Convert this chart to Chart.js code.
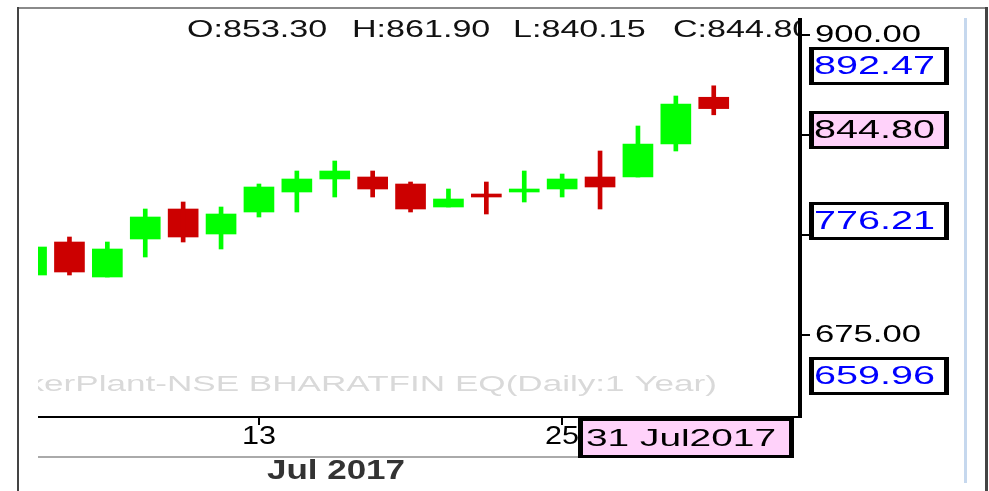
<!DOCTYPE html>
<html>
<head>
<meta charset="utf-8">
<script src="https://cdn.jsdelivr.net/npm/chart.js@4"></script>
<style>
  html, body { margin: 0; padding: 0; background: #fff; }
  canvas { display: block; }
</style>
</head>
<body>
<canvas id="myChart" width="989" height="491"></canvas>
<script>
// July 2017 trading days
var dates = ['5', '6', '7', '10', '11', '12', '13', '14', '17', '18', '19', '20', '21', '24', '25', '26', '27', '28', '31'];
var opens = [720, 744.75, 718.5, 747, 769.5, 750.75, 767.25, 782.25, 792, 793.5, 788.25, 771, 780.75, 782.25, 784.5, 793.5, 793.5, 818.25, 853.30];
var highs = [744, 748.5, 744.75, 769.5, 774.75, 771, 788.25, 798, 805.5, 798, 789.75, 784.5, 789.75, 798, 795.75, 813, 831.75, 854.25, 861.90];
var lows = [716, 720, 718.5, 733.5, 744.75, 739.5, 763.5, 767.25, 778.5, 778.5, 767.25, 771, 765.75, 774.75, 778.5, 769.5, 793.5, 813, 840.15];
var closes = [741, 722.25, 739.5, 763.5, 748.5, 765.75, 786, 792, 798, 784.5, 769.5, 777, 778.5, 784.5, 792, 786, 818.25, 848.25, 844.80];

var yTicks = [900, 825, 750, 675];
var yTickLabels = ['900.00', '', '', '675.00'];
var xTickLabels = ['13', '25'];
var monthLabel = 'Jul 2017';
var lastDateLabel = '31 Jul2017';
var levels = [892.47, 844.80, 776.21, 659.96];
var watermark = 'TickerPlant-NSE BHARATFIN EQ(Daily:1 Year)';

var GREEN = '#00ff00';
var RED = '#cc0000';

var colors = dates.map(function (d, i) {
  return closes[i] >= opens[i] ? GREEN : RED;
});
var wicks = dates.map(function (d, i) {
  return { x: i, y: [lows[i], highs[i]] };
});
var bodies = dates.map(function (d, i) {
  return { x: i, y: [opens[i], closes[i]] };
});

function stretchText(ctx, text, x, y, width, font, color) {
  ctx.save();
  ctx.font = font;
  ctx.fillStyle = color;
  ctx.textBaseline = 'middle';
  ctx.textAlign = 'left';
  var w = ctx.measureText(text).width;
  ctx.translate(x, y);
  ctx.scale(width / w, 1);
  ctx.fillText(text, 0, 0);
  ctx.restore();
}

function scaledText(ctx, text, x, y, sx, font, color) {
  ctx.save();
  ctx.font = font;
  ctx.fillStyle = color;
  ctx.textBaseline = 'middle';
  ctx.textAlign = 'left';
  ctx.translate(x, y);
  ctx.scale(sx, 1);
  ctx.fillText(text, 0, 0);
  ctx.restore();
}

function box(ctx, x, y, w, h, fill) {
  ctx.fillStyle = '#000';
  ctx.fillRect(x, y, w, h);
  ctx.fillStyle = fill;
  ctx.fillRect(x + 5, y + 3, w - 10, h - 6);
}

var backdrop = {
  id: 'backdrop',
  beforeDatasetsDraw: function (chart) {
    var ctx = chart.ctx;
    var a = chart.chartArea;
    ctx.save();
    ctx.beginPath();
    ctx.rect(a.left, a.top, a.right - a.left, a.bottom - a.top);
    ctx.clip();
    ctx.font = '22px "Liberation Sans"';
    var full = ctx.measureText(watermark).width;
    var head = ctx.measureText('Tick').width;
    var s = 673 / (full - head);
    var endX = 717;
    scaledText(ctx, watermark, endX - s * full, 385, s, '22px "Liberation Sans"', '#d9d9d9');
    ctx.restore();
  },
  afterDraw: function (chart) {
    var ctx = chart.ctx;
    var a = chart.chartArea;
    var xs = chart.scales.x;
    var ys = chart.scales.y;
    var font = '24px "Liberation Sans"';
    var last = dates.length - 1;
    ctx.save();

    // frame
    ctx.fillStyle = '#8a8a8a';
    ctx.fillRect(18, 7, 969, 2);
    ctx.fillStyle = '#444';
    ctx.fillRect(17, 7, 2, 484);
    ctx.fillRect(985, 7, 3, 484);
    ctx.fillStyle = '#c6d8ee';
    ctx.fillRect(964, 18, 3, 465);

    // OHLC readout
    ctx.save();
    ctx.beginPath();
    ctx.rect(a.left, 0, a.right - 2 - a.left, a.top + 40);
    ctx.clip();
    var readout = [
      'O:' + opens[last].toFixed(2),
      'H:' + highs[last].toFixed(2),
      'L:' + lows[last].toFixed(2),
      'C:' + closes[last].toFixed(2)
    ];
    var starts = [187, 352, 513, 673];
    readout.forEach(function (t, i) {
      scaledText(ctx, t, starts[i], 30, 1.42, font, '#111');
    });
    ctx.restore();

    // y axis
    ctx.fillStyle = '#000';
    ctx.fillRect(a.right - 2, a.top, 4, a.bottom - a.top + 1);
    yTicks.forEach(function (v, i) {
      var py = Math.round(ys.getPixelForValue(v));
      ctx.fillStyle = '#000';
      ctx.fillRect(a.right + 2, py - 1, 8, 2);
      if (yTickLabels[i]) {
        stretchText(ctx, yTickLabels[i], 815, py, 106, font, '#000');
      }
    });

    // level boxes
    levels.forEach(function (v) {
      var top = Math.round(ys.getPixelForValue(v)) + 2;
      var hit = v === closes[last];
      box(ctx, 809, top, 140, 38, hit ? '#ffd2fa' : '#fff');
      stretchText(ctx, v.toFixed(2), 814, top + 20, 121, '26px "Liberation Sans"', hit ? '#000' : '#0000ff');
    });

    // x axis
    ctx.fillStyle = '#000';
    ctx.fillRect(a.left, a.bottom - 1, a.right - a.left, 2);
    xTickLabels.forEach(function (lab) {
      var px = Math.round(xs.getPixelForValue(dates.indexOf(lab)));
      ctx.fillStyle = '#000';
      ctx.fillRect(px - 1, a.bottom, 2, 8);
      stretchText(ctx, lab, px - 17, a.bottom + 20, 34, '25px "Liberation Sans"', '#000');
    });
    ctx.fillStyle = '#aaa';
    ctx.fillRect(a.left, a.bottom + 39, 540, 2);
    stretchText(ctx, monthLabel, 267, a.bottom + 54, 138, 'bold 28px "Liberation Sans"', '#333');

    // last date box
    box(ctx, a.right - 222, a.bottom + 1, 216, 40, '#ffd2fa');
    stretchText(ctx, lastDateLabel, a.right - 214, a.bottom + 22, 190, font, '#000');

    ctx.restore();
  }
};

var chart = document.getElementById('myChart').getContext('2d');
var myChart = new Chart(chart, {
  type: 'bar',
  data: {
    datasets: [
      {
        label: 'wick',
        data: wicks,
        backgroundColor: colors,
        borderWidth: 0,
        barThickness: 4,
        grouped: false,
        clip: 0
      },
      {
        label: 'body',
        data: bodies,
        backgroundColor: colors,
        borderWidth: 0,
        barThickness: 30,
        minBarLength: 2,
        grouped: false,
        clip: 0
      }
    ]
  },
  options: {
    responsive: false,
    devicePixelRatio: 1,
    animation: false,
    layout: {
      padding: { left: 38, right: 189, top: 18, bottom: 74 }
    },
    scales: {
      x: {
        type: 'linear',
        display: false,
        offset: false,
        min: 0.17,
        max: 20.276
      },
      y: {
        type: 'linear',
        display: false,
        min: 613.5,
        max: 912.75
      }
    },
    plugins: {
      legend: { display: false },
      tooltip: { enabled: false }
    }
  },
  plugins: [backdrop]
});
</script>
</body>
</html>
